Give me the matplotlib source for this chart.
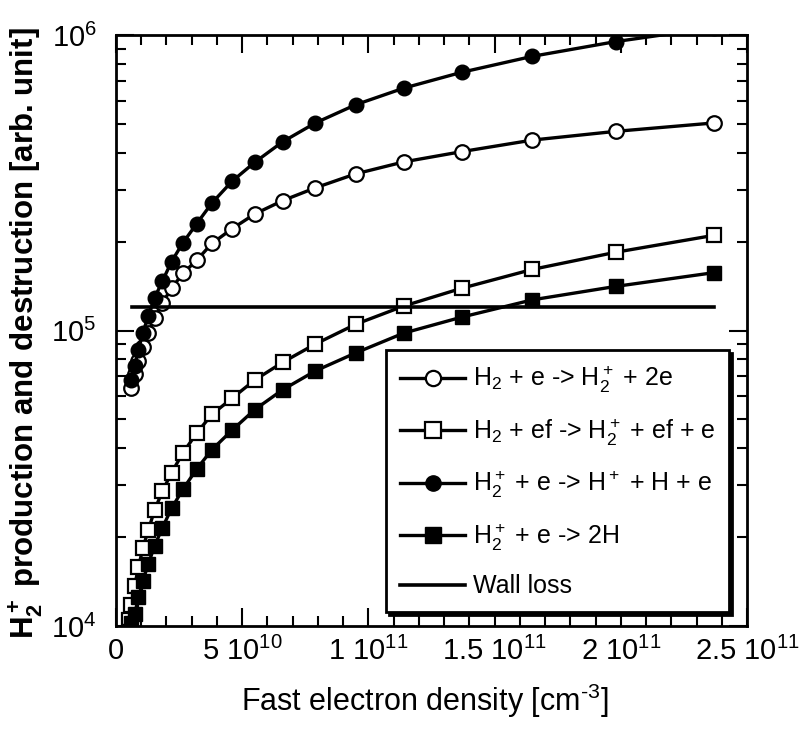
import matplotlib
matplotlib.use('Agg')
import matplotlib.pyplot as plt
from matplotlib.ticker import FixedLocator, MultipleLocator, LogLocator, NullFormatter, FixedFormatter

plt.rcParams['font.family'] = ['Liberation Sans', 'DejaVu Sans']
plt.rcParams['mathtext.fontset'] = 'custom'
plt.rcParams['mathtext.rm'] = 'Liberation Sans'
plt.rcParams['mathtext.it'] = 'Liberation Sans:italic'
plt.rcParams['mathtext.bf'] = 'Liberation Sans:bold'

# ---- data (fast electron density in cm^-3) ----
x_circ = [0.61e10, 0.74e10, 0.89e10, 1.06e10, 1.28e10, 1.53e10, 1.84e10, 2.2e10, 2.65e10, 3.2e10,
          3.8e10, 4.6e10, 5.5e10, 6.6e10, 7.9e10, 9.5e10, 11.4e10, 13.7e10, 16.5e10, 19.8e10, 23.7e10]
ion_e = [6.4e4, 7.1e4, 7.9e4, 8.8e4, 9.8e4, 1.1e5, 1.24e5, 1.39e5, 1.56e5, 1.73e5,
         1.97e5, 2.21e5, 2.48e5, 2.75e5, 3.04e5, 3.39e5, 3.72e5, 4.03e5, 4.41e5, 4.72e5, 5.04e5]
diss_ion = [6.8e4, 7.6e4, 8.6e4, 9.8e4, 1.12e5, 1.29e5, 1.47e5, 1.71e5, 1.98e5, 2.3e5,
            2.7e5, 3.2e5, 3.71e5, 4.35e5, 5.04e5, 5.81e5, 6.61e5, 7.48e5, 8.47e5, 9.5e5, 1.06e6]

x_sq = [0.51e10, 0.61e10, 0.74e10, 0.89e10, 1.06e10, 1.28e10, 1.53e10, 1.84e10, 2.2e10, 2.65e10, 3.2e10,
        3.8e10, 4.6e10, 5.5e10, 6.6e10, 7.9e10, 9.5e10, 11.4e10, 13.7e10, 16.5e10, 19.8e10, 23.7e10]
ion_ef = [1.05e4, 1.18e4, 1.37e4, 1.58e4, 1.83e4, 2.11e4, 2.47e4, 2.86e4, 3.3e4, 3.85e4, 4.5e4,
          5.2e4, 5.9e4, 6.8e4, 7.8e4, 9.0e4, 1.05e5, 1.21e5, 1.39e5, 1.61e5, 1.84e5, 2.1e5]
recomb = [0.96e4, 1.02e4, 1.1e4, 1.25e4, 1.42e4, 1.62e4, 1.87e4, 2.15e4, 2.5e4, 2.9e4, 3.4e4,
          3.95e4, 4.6e4, 5.4e4, 6.3e4, 7.3e4, 8.4e4, 9.8e4, 1.11e5, 1.27e5, 1.41e5, 1.57e5]

wall_x = [0.63e10, 23.7e10]
wall_y = [1.2e5, 1.2e5]

xtick_vals = [0, 5e10, 1e11, 1.5e11, 2e11, 2.5e11]
xtick_labels = ['0', r'5 10$^{10}$', r'1 10$^{11}$', r'1.5 10$^{11}$', r'2 10$^{11}$', r'2.5 10$^{11}$']
ytick_vals = [1e4, 1e5, 1e6]
ytick_labels = [r'10$^4$', r'10$^5$', r'10$^6$']

labels = [r'H$_2$ + e -> H$_2^+$ + 2e',
          r'H$_2$ + ef -> H$_2^+$ + ef + e',
          r'H$_2^+$ + e -> H$^+$ + H + e',
          r'H$_2^+$ + e -> 2H',
          'Wall loss']

fig = plt.figure(figsize=(8.06, 7.32), dpi=100)
ax = fig.add_axes([116/806, 1-626/732, (747-116)/806, (626-35)/732])

lw = 2.4
ms = 10.5
ax.plot(x_circ, ion_e, '-o', color='k', lw=lw, ms=ms, mfc='white', mec='k', mew=1.6, label=labels[0])
ax.plot(x_sq, ion_ef, '-s', color='k', lw=lw, ms=ms, mfc='white', mec='k', mew=1.6, label=labels[1])
ax.plot(x_circ, diss_ion, '-o', color='k', lw=lw, ms=ms, mfc='k', mec='k', label=labels[2])
ax.plot(x_sq, recomb, '-s', color='k', lw=lw, ms=ms, mfc='k', mec='k', label=labels[3])
ax.plot(wall_x, wall_y, '-', color='k', lw=2.6, label=labels[4])

ax.set_yscale('log')
ax.set_xlim(0, 2.5e11)
ax.set_ylim(1e4, 1e6)

ax.xaxis.set_major_locator(FixedLocator(xtick_vals))
ax.xaxis.set_major_formatter(FixedFormatter(xtick_labels))
ax.xaxis.set_minor_locator(MultipleLocator(1e10))
ax.yaxis.set_major_locator(FixedLocator(ytick_vals))
ax.yaxis.set_major_formatter(FixedFormatter(ytick_labels))
ax.yaxis.set_minor_locator(LogLocator(base=10, subs=range(2, 10), numticks=10))
ax.yaxis.set_minor_formatter(NullFormatter())

ax.tick_params(which='both', direction='in', top=True, right=True, width=1.5)
ax.tick_params(which='major', length=13, labelsize=21, pad=8)
ax.tick_params(axis='y', which='major', pad=14)
ax.tick_params(which='minor', length=7)
for s in ax.spines.values():
    s.set_linewidth(2)

ax.set_xlabel('Fast electron density [cm$^{\u20103}$]', fontsize=22)
ax.xaxis.set_label_coords(0.49, -0.095)
ax.set_ylabel(r'$\mathbf{H_2^+}$ production and destruction [arb. unit]', fontsize=22.5, fontweight='bold')
ax.yaxis.set_label_coords(-0.112, 0.495)

leg = ax.legend(loc='lower right', bbox_to_anchor=(729/806, 1-612/732), bbox_transform=fig.transFigure,
                borderaxespad=0,
                fontsize=18, frameon=True, fancybox=False, edgecolor='k', framealpha=1,
                handlelength=2.6, handletextpad=0.3, labelspacing=0.85, borderpad=0.55,
                shadow={'color': 'k', 'alpha': 1})
leg.get_frame().set_linewidth(2)
for h in leg.legend_handles:
    h.set_markersize(11)

fig.savefig('out.png', dpi=100)
